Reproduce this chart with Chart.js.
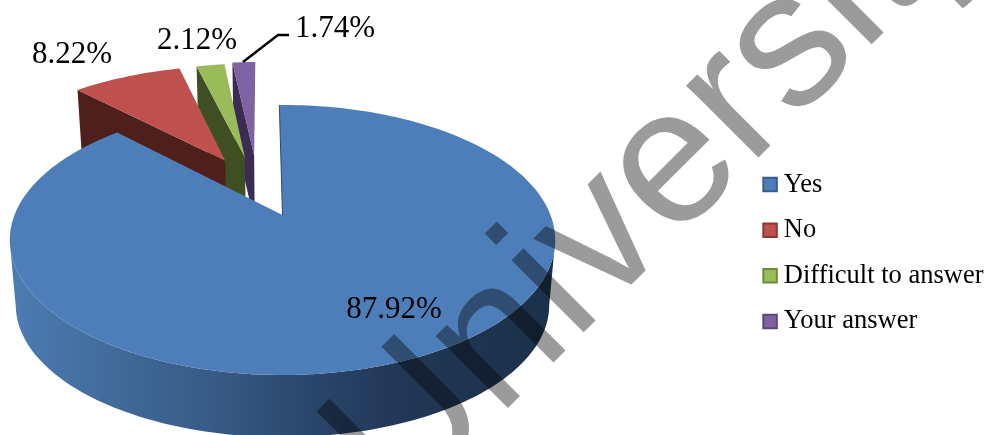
<!DOCTYPE html>
<html>
<head>
<meta charset="utf-8">
<style>
html, body { margin: 0; padding: 0; background: #fff; overflow: hidden; }
canvas { display: block; }
</style>
<script src="https://cdn.jsdelivr.net/npm/chart.js@4"></script>
</head>
<body>
<canvas id="chart" width="987" height="435"></canvas>
<script>
const categories = ['Yes', 'No', 'Difficult to answer', 'Your answer'];
const shares = [87.92, 8.22, 2.12, 1.74];
const faceColors = ['#4d7eba', '#be504d', '#9abb59', '#7f62a1'];
const edgeColors = ['#385d8a', '#8c3836', '#71893f', '#5c4776'];
const wallColors = ['#2c4a6e', '#4f1f1d', '#404e23', '#3a2c52'];

// how far each slice is pulled out of the pie, in pie radii
const explodeX = [0, -0.2315, -0.1526, -0.1156];
const explodeY = [0, -0.45, -0.4776, -0.499];

// perspective of the tilted disc
const view = { cx: 282.5, cy: 215, a: 268, b: 130.4, k: -0.185, widestY: 240, vanishY: 3200, depth: 0.978 };

function project(u, v) {
    const w = 1 + view.k * v;
    return [view.cx + view.a * u / w, view.cy + view.b * v / w];
}

function lower(p) {
    return [view.cx + view.depth * (p[0] - view.cx), view.vanishY + view.depth * (p[1] - view.vanishY)];
}

// outline of a slice: apex first, then the rim
function sliceOutline(arc, i) {
    const start = arc.startAngle + Math.PI / 2;
    const end = arc.endAngle + Math.PI / 2;
    const points = [project(explodeX[i], explodeY[i])];
    const steps = Math.max(6, Math.ceil((end - start) * 40));
    for (let s = 0; s <= steps; s++) {
        const t = start + (end - start) * s / steps;
        points.push(project(explodeX[i] + Math.sin(t), explodeY[i] - Math.cos(t)));
    }
    return points;
}

function fillPath(ctx, points, fill) {
    ctx.beginPath();
    points.forEach((p, n) => n ? ctx.lineTo(p[0], p[1]) : ctx.moveTo(p[0], p[1]));
    ctx.closePath();
    ctx.fillStyle = fill;
    ctx.fill();
}

const pie3d = {
    id: 'pie3d',
    afterLayout(chart) {
        // legend sits lower and closer to the edge than the box layout puts it
        const legend = chart.legend;
        legend.left += 6.5;
        legend.right += 6.5;
        legend.top += 35.5;
        legend.bottom += 35.5;
    },
    beforeDatasetsDraw(chart) {
        const ctx = chart.ctx;
        const arcs = chart.getDatasetMeta(0).data;
        ctx.save();
        // back to front, the big slice covers the others
        for (let i = arcs.length - 1; i >= 0; i--) {
            const outline = sliceOutline(arcs[i], i);
            const rim = outline.slice(1);
            if (i === 0) {
                // only the near half of the rim shows a wall
                const front = rim.filter(p => p[1] >= view.widestY);
                const wall = ctx.createLinearGradient(10, 0, 556, 0);
                wall.addColorStop(0, '#4d7cb3');
                wall.addColorStop(0.22, '#3f6896');
                wall.addColorStop(0.38, '#375a85');
                wall.addColorStop(0.55, '#2a466b');
                wall.addColorStop(0.7, '#213857');
                wall.addColorStop(1, '#1b3049');
                fillPath(ctx, front.concat(front.map(lower).reverse()), wall);
            } else {
                // the wall under the slice's left edge
                const apex = outline[0];
                const corner = rim[0];
                fillPath(ctx, [apex, corner, lower(corner), lower(apex)], wallColors[i]);
            }
            fillPath(ctx, outline, faceColors[i]);
            if (i === 0) {
                ctx.beginPath();
                ctx.moveTo(outline[0][0], outline[0][1]);
                ctx.lineTo(rim[0][0], rim[0][1]);
                ctx.strokeStyle = wallColors[0];
                ctx.lineWidth = 1;
                ctx.stroke();
            }
        }
        ctx.restore();
        return false;
    },
    afterDraw(chart) {
        const ctx = chart.ctx;
        ctx.save();
        ctx.font = '31px "Liberation Serif"';
        ctx.fillStyle = '#000';
        ctx.textAlign = 'center';
        ctx.textBaseline = 'middle';
        const labelAt = [[394, 310], [72, 55], [197, 41], [335, 29]];
        shares.forEach((v, i) => ctx.fillText(v.toFixed(2) + '%', labelAt[i][0], labelAt[i][1]));

        // leader line of the smallest slice
        ctx.beginPath();
        ctx.moveTo(243, 62);
        ctx.lineTo(278, 35);
        ctx.lineTo(289, 35);
        ctx.strokeStyle = '#000';
        ctx.lineWidth = 2.5;
        ctx.stroke();

        // watermark across the whole picture
        ctx.globalCompositeOperation = 'multiply';
        ctx.translate(400, 516);
        ctx.rotate(-Math.PI / 4);
        ctx.font = '193px "Liberation Sans"';
        ctx.fillStyle = '#9b9b9b';
        ctx.textAlign = 'left';
        ctx.textBaseline = 'alphabetic';
        ctx.fillText('University', 0, 0);
        ctx.restore();
    }
};

new Chart(document.getElementById('chart'), {
    type: 'pie',
    data: {
        labels: categories,
        datasets: [{
            data: shares,
            backgroundColor: faceColors,
            borderColor: edgeColors,
            borderWidth: 2
        }]
    },
    options: {
        responsive: false,
        animation: false,
        rotation: -0.8,
        plugins: {
            tooltip: { enabled: false },
            legend: {
                position: 'right',
                labels: {
                    usePointStyle: true,
                    pointStyle: 'rect',
                    boxWidth: 1,
                    boxHeight: 13.5,
                    padding: 19.1,
                    color: '#000',
                    font: { family: '"Liberation Serif"', size: 26.5 }
                }
            }
        }
    },
    plugins: [pie3d]
});
</script>
</body>
</html>
